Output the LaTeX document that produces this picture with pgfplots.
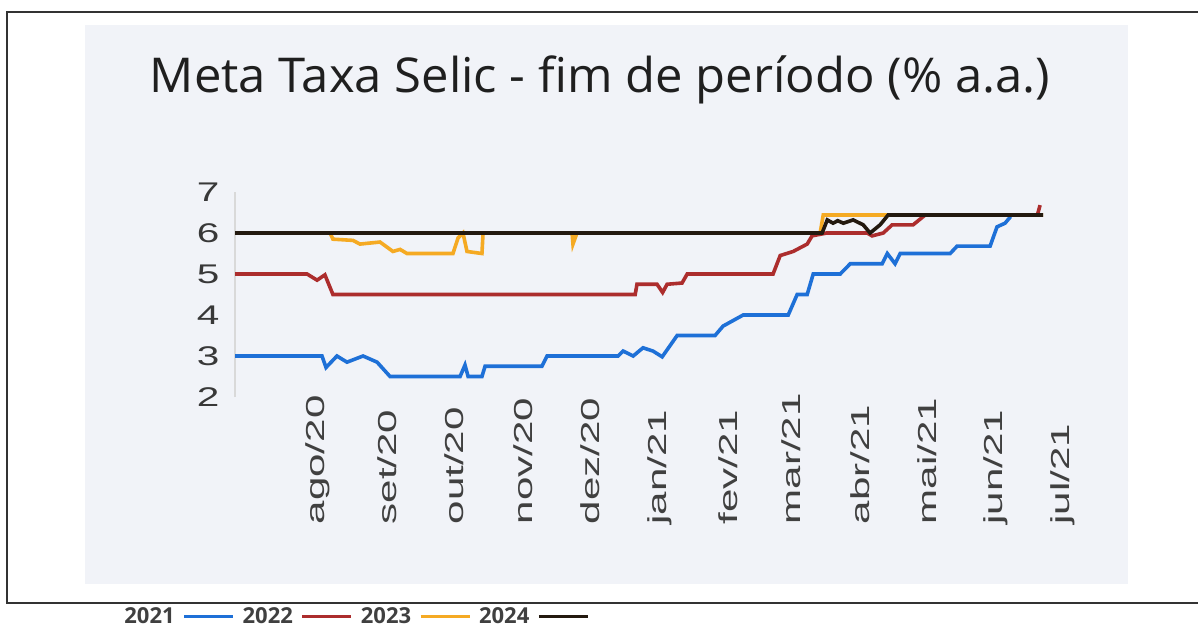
\documentclass[border=0pt]{standalone}
\usepackage{fontspec}
\usepackage{pgfplots}
\pgfplotsset{compat=1.18}
\setmainfont{Liberation Sans}
\newfontfamily\titlefont{Open Sans}
\newfontfamily\legfont{Open Sans}
\newfontfamily\tickfont{Liberation Sans}
\definecolor{c21}{RGB}{30,112,215}
\definecolor{c22}{RGB}{172,45,45}
\definecolor{c23}{RGB}{245,170,35}
\definecolor{c24}{RGB}{35,25,15}
\definecolor{panel}{RGB}{241,243,248}
\begin{document}
\begin{tikzpicture}
\useasboundingbox (0pt,0pt) rectangle (599pt,313.5pt);
\fill[white] (0pt,0pt) rectangle (599pt,313.5pt);
\fill[panel] (42.5pt,21.5pt) rectangle (564pt,301pt);
\draw[line width=1pt, black!80] (599pt,307.5pt) -- (3.5pt,307.5pt) -- (3.5pt,12pt) -- (599pt,12pt);
\node[font=\titlefont\fontsize{24}{28}\selectfont, anchor=base, text=black!88, xscale=1.02] at (300pt,267pt) {Meta Taxa Selic - fim de período (\% a.a.)};
\begin{axis}[
  at={(117.5pt,115pt)}, anchor=south west,
  scale only axis, width=416.25pt, height=102.5pt,
  xmin=-37.2, xmax=336, ymin=2, ymax=7,
  axis lines*=left,
  axis line style={-},
  x axis line style={draw=none},
  y axis line style={draw=black!15, line width=0.8pt},
  major tick length=0pt,
  tick style={draw=none},
  /pgf/number format/assume math mode=true,
  ytick={2,3,4,5,6,7},
  xtick={0,31,61,92,122,153,184,212,243,273,304,334},
  xticklabels={ago/20,set/20,out/20,nov/20,dez/20,jan/21,fev/21,mar/21,abr/21,mai/21,jun/21,jul/21},
  yticklabel style={font=\tickfont\fontsize{13.5}{15}\selectfont, text=black!78, inner sep=0pt, anchor=east, xshift=-7.5pt, xscale=1.5},
  xticklabel style={font=\tickfont\fontsize{13}{15}\selectfont, text=black!75, inner sep=0pt, yshift=-64pt, yscale=1.62, rotate=90, anchor=west},
  legend plot pos=right,
  legend columns=4,
  legend image code/.code={\draw[#1, line width=1.5pt] (0pt,0pt) -- (24.5pt,0pt);},
  legend style={at={(-0.1405,-1.0732)}, anchor=west, draw=none, fill=none,
    font=\legfont\bfseries\fontsize{11}{13}\selectfont, text=black!75,
    column sep=4pt, nodes={inner xsep=0pt}},
  every axis plot/.append style={line width=1.8pt, no markers},
]
\addplot[c21] coordinates {
(-37.2,3.0) (1.8,3.0) (3.6,2.72) (8.5,3.0) (13,2.85) (20.2,3.0) (26.5,2.85) (32.3,2.5)
(63.7,2.5) (65.9,2.78) (67.3,2.5) (73.5,2.5) (74.9,2.75) (100.4,2.75) (102.7,3.0)
(134.5,3.0) (136.8,3.12) (141.3,3.0) (145.7,3.2) (150.2,3.12) (154.3,2.98) (161,3.5)
(178,3.5) (181.6,3.73) (190.6,4.0) (210.8,4.0) (214.8,4.5) (219.3,4.5) (222,5.0)
(234.1,5.0) (238.6,5.25) (252.9,5.25) (255.2,5.5) (258.7,5.25) (261,5.5) (283.4,5.5)
(286.5,5.68) (301.3,5.68) (304.4,6.15) (308,6.24) (310.5,6.4)
};
\addlegendentry{2021}
\addplot[c22] coordinates {
(-37.2,5.0) (-4.9,5.0) (-0.4,4.85) (3.1,4.98) (6.7,4.5) (142.2,4.5) (143,4.75) (152,4.75)
(154.5,4.55) (156.5,4.75) (163.2,4.78) (165.5,5.0) (204,5.0) (207.2,5.45) (213,5.55)
(219.3,5.73) (221.5,5.93) (228,6.0) (246.2,6.0) (248.4,5.93) (253.4,6.0) (257.4,6.2)
(266.8,6.2) (272.2,6.44) (322.5,6.44) (323.7,6.68)
};
\addlegendentry{2022}
\addplot[c23] coordinates {
(-37.2,6.0) (5.4,6.0) (6.7,5.85) (15.7,5.82) (18.8,5.73) (27.8,5.78) (33.6,5.55) (36.8,5.6)
(39.9,5.5) (60.5,5.5) (62.8,5.88) (65,6.0) (66.8,5.55) (73.5,5.5) (74,6.0) (113.9,6.0)
(114.3,5.73) (116.1,6.0) (225.1,6.0) (226.5,6.44) (325.1,6.44)
};
\addlegendentry{2023}
\addplot[c24] coordinates {
(-37.2,6.0) (226,6.0) (228.3,6.32) (230.9,6.24) (233,6.3) (235.5,6.24) (239.9,6.32)
(244.4,6.2) (247.5,6.0) (252,6.2) (255.6,6.44) (325.1,6.44)
};
\addlegendentry{2024}
\end{axis}
\end{tikzpicture}
\end{document}
